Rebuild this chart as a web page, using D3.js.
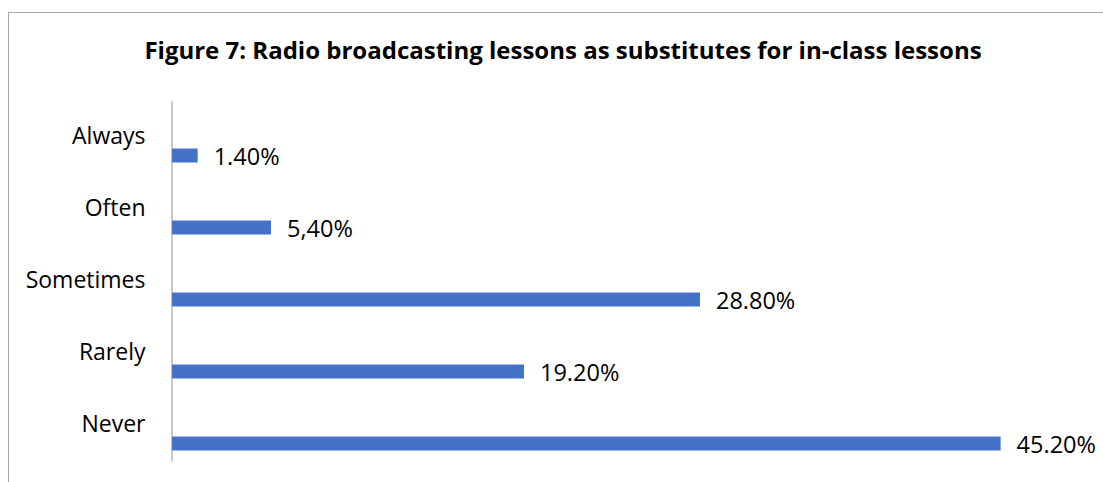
<!DOCTYPE html>
<html>
<head>
<meta charset="utf-8">
<script src="https://cdn.jsdelivr.net/npm/d3@7"></script>
<style>
  html, body { margin: 0; padding: 0; background: #fff; }
  svg { display: block; }
  text { font-family: "Open Sans", "Noto Sans", sans-serif; fill: #000; }
</style>
</head>
<body>
<svg id="chart" width="1103" height="482"></svg>
<script>
// Survey answers, top to bottom
const categories = ["Always", "Often", "Sometimes", "Rarely", "Never"];
const values = [1.4, 5.4, 28.8, 19.2, 45.2];
const valueLabels = ["1.40%", "5,40%", "28.80%", "19.20%", "45.20%"];
const title = "Figure 7: Radio broadcasting lessons as substitutes for in-class lessons";

const W = 1103, H = 482;
const svg = d3.select("#chart");

// chart frame (runs past the right and bottom edges)
svg.append("rect")
  .attr("x", 8.5).attr("y", 12.5)
  .attr("width", W + 20).attr("height", H + 20)
  .attr("fill", "none").attr("stroke", "#a6a6a6").attr("stroke-width", 1);

svg.append("text")
  .attr("x", 563).attr("y", 59)
  .attr("text-anchor", "middle")
  .attr("font-weight", "bold")
  .attr("font-size", 24)
  .text(title);

const plot = { left: 172, top: 101, bottom: 461 };

const x = d3.scaleLinear().domain([0, 50]).range([plot.left, plot.left + 916.6]);
const y = d3.scaleBand().domain(categories).range([plot.top, plot.bottom]);

// bar sits in the lower part of each category band
const barHeight = 14;
const barShift = 11.5;

const yAxis = d3.axisLeft(y).tickSize(0).tickPadding(26);
const gAxis = svg.append("g")
  .attr("transform", `translate(${plot.left - 0.5},0)`)
  .call(yAxis);
gAxis.select(".domain").attr("stroke", "#a6a6a6").attr("stroke-width", 1.2);
gAxis.selectAll(".tick text")
  .attr("font-family", "'Open Sans', sans-serif")
  .attr("font-size", 23)
  .attr("fill", "#000")
  .attr("dy", "0.32em");

svg.append("g").selectAll("rect")
  .data(values)
  .join("rect")
  .attr("x", x(0))
  .attr("y", (d, i) => y(categories[i]) + y.bandwidth() / 2 + barShift)
  .attr("width", d => x(d) - x(0))
  .attr("height", barHeight)
  .attr("fill", "#4472c4");

svg.append("g").selectAll("text")
  .data(values)
  .join("text")
  .attr("x", d => x(d) + 16)
  .attr("y", (d, i) => y(categories[i]) + y.bandwidth() / 2 + barShift + barHeight / 2 + 9)
  .attr("font-size", 23.5)
  .text((d, i) => valueLabels[i]);
</script>
</body>
</html>
